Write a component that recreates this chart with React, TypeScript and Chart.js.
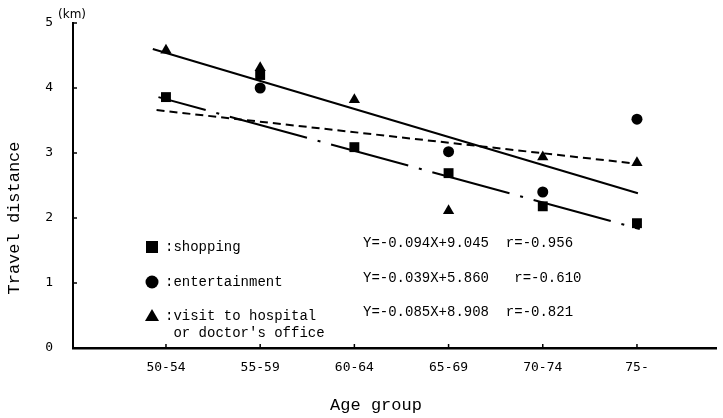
import { useEffect, useRef } from 'react';
import { Chart, registerables } from 'chart.js';

Chart.register(...registerables);

// ---------- data ----------
const categories = ['50-54', '55-59', '60-64', '65-69', '70-74', '75-'];
const shopping = [3.86, 4.2, 3.09, 2.69, 2.18, 1.92];
const entertainment: (number | null)[] = [null, 4.0, null, 3.02, 2.4, 3.52];
const hospital = [4.58, 4.31, 3.82, 2.11, 2.94, 2.85];

const shoppingFitX = [-0.08, 5.03];
const shoppingFitY = [3.86, 1.83];
const entertainmentFitX = [-0.1, 5.03];
const entertainmentFitY = [3.66, 2.83];
const hospitalFitX = [-0.14, 5.01];
const hospitalFitY = [4.6, 2.38];

const yTicks = [0, 1, 2, 3, 4, 5];
const yUnit = '(km)';
const yTitle = 'Travel distance';
const xTitle = 'Age group';

const legendLabels = [':shopping', ':entertainment', ':visit to hospital'];
const legendExtra = " or doctor's office";
const equations = ['Y=-0.094X+9.045', 'Y=-0.039X+5.860', 'Y=-0.085X+8.908'];
const correlations = ['r=-0.956', 'r=-0.610', 'r=-0.821'];
const eqGaps = ['  ', '   ', '  '];

const toPoints = (vals: (number | null)[]) =>
  vals
    .map((v, i) => ({ x: i, y: v }))
    .filter((p) => p.y !== null) as { x: number; y: number }[];
const toLine = (xs: number[], ys: number[]) => xs.map((x, i) => ({ x, y: ys[i] }));

const MONO = '"Liberation Mono", "DejaVu Sans Mono", monospace';
const TICKFONT = '"DejaVu Sans Mono", monospace';

function drawMarker(ctx: CanvasRenderingContext2D, style: string, x: number, y: number) {
  ctx.beginPath();
  if (style === 'rect') {
    ctx.rect(x - 6, y - 6, 12, 12);
  } else if (style === 'circle') {
    ctx.arc(x, y, 6.5, 0, Math.PI * 2);
  } else {
    ctx.moveTo(x, y - 7);
    ctx.lineTo(x + 7, y + 5);
    ctx.lineTo(x - 7, y + 5);
    ctx.closePath();
  }
  ctx.fill();
}

const overlay = {
  id: 'overlay',
  afterDraw(chart: any) {
    const ctx: CanvasRenderingContext2D = chart.ctx;
    const { left, bottom, top } = chart.chartArea;
    const xs = chart.scales.x;
    const ys = chart.scales.y;
    ctx.save();
    ctx.strokeStyle = '#000';
    ctx.fillStyle = '#000';
    ctx.lineWidth = 1.5;
    // inward tick marks
    categories.forEach((_, i) => {
      const px = xs.getPixelForValue(i);
      ctx.beginPath();
      ctx.moveTo(px, bottom);
      ctx.lineTo(px, bottom - 4);
      ctx.stroke();
    });
    yTicks.forEach((v) => {
      if (v === 0) return;
      const py = ys.getPixelForValue(v);
      ctx.beginPath();
      ctx.moveTo(left, py);
      ctx.lineTo(left + 4, py);
      ctx.stroke();
    });
    // unit
    ctx.font = '12px "DejaVu Sans"';
    ctx.textAlign = 'left';
    ctx.textBaseline = 'middle';
    ctx.fillText(yUnit, left - 15, top - 8);
    // axis titles
    ctx.font = '17px ' + MONO;
    ctx.textAlign = 'center';
    ctx.fillText(xTitle, 376, 405);
    ctx.save();
    ctx.translate(14, 218);
    ctx.rotate(-Math.PI / 2);
    ctx.fillText(yTitle, 0, 0);
    ctx.restore();
    // legend with equations
    const rows = [247, 282, 316];
    const styles = ['rect', 'circle', 'triangle'];
    ctx.font = '14px ' + MONO;
    ctx.textAlign = 'left';
    rows.forEach((ry, i) => {
      drawMarker(ctx, styles[i], 152, ry);
      ctx.fillText(legendLabels[i], 165, ry);
      ctx.fillText(equations[i] + eqGaps[i] + correlations[i], 363, ry - 4);
    });
    ctx.fillText(legendExtra, 165, 333);
    ctx.restore();
  },
};

export default function App() {
  const ref = useRef<HTMLCanvasElement | null>(null);
  useEffect(() => {
    document.body.style.margin = '0';
    if (!ref.current) return;
    const black = '#000';
    const chart = new Chart(ref.current, {
      type: 'scatter',
      data: {
        datasets: [
          { label: 'hospital', data: toPoints(hospital), pointStyle: 'triangle', pointRadius: 6.5, backgroundColor: black, borderColor: black, borderWidth: 0 },
          { label: 'shopping', data: toPoints(shopping), pointStyle: 'rect', pointRadius: 7, backgroundColor: black, borderColor: black, borderWidth: 0 },
          { label: 'entertainment', data: toPoints(entertainment), pointStyle: 'circle', pointRadius: 5.5, backgroundColor: black, borderColor: black, borderWidth: 0 },
          { label: 'hospital fit', data: toLine(hospitalFitX, hospitalFitY), showLine: true, pointRadius: 0, borderColor: black, borderWidth: 2 },
          { label: 'shopping fit', data: toLine(shoppingFitX, shoppingFitY), showLine: true, pointRadius: 0, borderColor: black, borderWidth: 2, borderDash: [80, 11, 3, 11], borderDashOffset: 31 },
          { label: 'entertainment fit', data: toLine(entertainmentFitX, entertainmentFitY), showLine: true, pointRadius: 0, borderColor: black, borderWidth: 2, borderDash: [8, 5] },
        ],
      } as any,
      options: {
        animation: false,
        responsive: false,
        events: [],
        layout: { padding: { top: 23, right: 0, left: 0, bottom: 0 } },
        plugins: { legend: { display: false }, tooltip: { enabled: false } },
        scales: {
          x: {
            type: 'linear', min: -0.987, max: 5.839,
            grid: { display: false, drawTicks: false },
            border: { display: true, color: black, width: 2.5 },
            afterBuildTicks: (s: any) => { s.ticks = categories.map((_, i) => ({ value: i })); },
            afterFit: (s: any) => { s.height = 70; s.paddingLeft = 0; s.paddingRight = 0; },
            ticks: { color: black, font: { family: TICKFONT, size: 13 }, padding: 12, maxRotation: 0, autoSkip: false, callback: (v: any) => categories[v as number] ?? '' },
          },
          y: {
            type: 'linear', min: 0, max: 5,
            grid: { display: false, drawTicks: false },
            border: { display: true, color: black, width: 2 },
            afterBuildTicks: (s: any) => { s.ticks = yTicks.map((v) => ({ value: v })); },
            afterFit: (s: any) => { s.width = 73; s.paddingTop = 0; s.paddingBottom = 0; },
            ticks: { color: black, font: { family: TICKFONT, size: 13 }, padding: 20 },
          },
        },
      } as any,
      plugins: [overlay],
    });
    return () => chart.destroy();
  }, []);
  return (
    <div style={{ width: 723, height: 418, background: '#fff' }}>
      <canvas ref={ref} width={723} height={418} />
    </div>
  );
}
